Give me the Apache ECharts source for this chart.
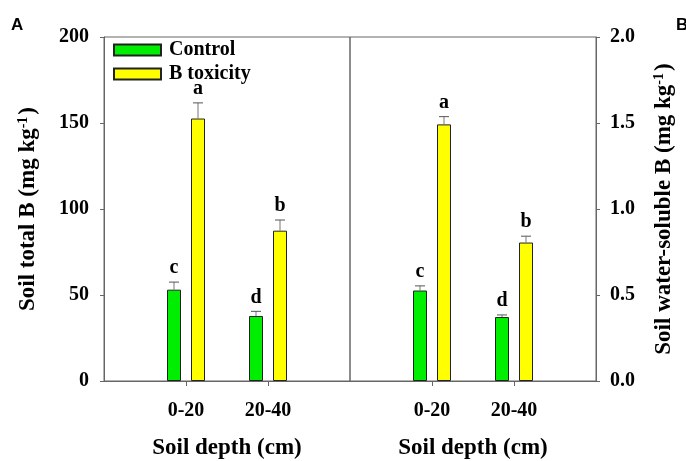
<!DOCTYPE html>
<html>
<head>
<meta charset="utf-8">
<script src="https://cdn.jsdelivr.net/npm/echarts@6/dist/echarts.min.js"></script>
<style>html,body{margin:0;padding:0;background:#fff}#c{width:686px;height:461px}</style>
</head>
<body>
<div id="c"></div>
<script>
// ---- data ----
var depthLabels = ['0-20', '20-40'];
var seriesNames = ['Control', 'B toxicity'];
// Panel A: soil total B (mg/kg)
var totalControl = [53.1, 37.8];
var totalControlErr = [4.4, 2.7];
var totalBtox = [152.6, 87.4];
var totalBtoxErr = [9.1, 6.2];
var totalControlLetters = ['c', 'd'];
var totalBtoxLetters = ['a', 'b'];
// Panel B: soil water-soluble B (mg/kg)
var solControl = [0.526, 0.372];
var solControlErr = [0.027, 0.012];
var solBtox = [1.492, 0.805];
var solBtoxErr = [0.045, 0.037];
var solControlLetters = ['c', 'd'];
var solBtoxLetters = ['a', 'b'];
var leftTicks = [0, 50, 100, 150, 200];
var rightTicks = [0, 0.5, 1.0, 1.5, 2.0];

// ---- styles ----
var SERIF = '"Liberation Serif","Times New Roman",serif';
var GREEN = '#00ee00';
var YELLOW = '#ffff00';
var FRAME = '#666';
var BAR_W = 14, BAR_GAP_PX = 10;
var OFFSET = (BAR_W + BAR_GAP_PX) / 2;

var axisCats = [''].concat(depthLabels, ['']);
function pad(arr) { return [null].concat(arr, [null]); }

function errSeries(name, gridIdx, vals, errs, letters, side) {
  var data = vals.map(function (v, i) { return [i + 1, v, errs[i]]; });
  return {
    type: 'custom', name: name + ' err', xAxisIndex: gridIdx, yAxisIndex: gridIdx, z: 5,
    encode: { x: 0, y: 1 },
    data: data,
    renderItem: function (params, api) {
      var c = api.value(0), v = api.value(1), e = api.value(2);
      var base = api.coord([c, v]);
      var top = api.coord([c, v + e]);
      var x = base[0] + side * OFFSET;
      return {
        type: 'group', children: [
          { type: 'line', shape: { x1: x, y1: base[1], x2: x, y2: top[1] }, style: { stroke: '#777', lineWidth: 1 } },
          { type: 'line', shape: { x1: x - 5, y1: top[1], x2: x + 5, y2: top[1] }, style: { stroke: '#555', lineWidth: 1 } },
          { type: 'text', x: x, y: top[1] - 4, style: { text: letters[params.dataIndex], fontFamily: SERIF, fontWeight: 'bold', fontSize: 20, fill: '#000', align: 'center', verticalAlign: 'bottom' } }
        ]
      };
    }
  };
}

function barSeries(name, gridIdx, vals, color) {
  return {
    type: 'bar', name: name, xAxisIndex: gridIdx, yAxisIndex: gridIdx,
    data: pad(vals), barWidth: BAR_W, barGap: (BAR_GAP_PX / BAR_W * 100) + '%',
    itemStyle: { color: color, borderColor: '#222', borderWidth: 1 },
    emphasis: { disabled: true }, animation: false
  };
}

function xAxisDef(gridIdx) {
  return {
    type: 'category', gridIndex: gridIdx, data: axisCats, boundaryGap: false,
    axisLine: { lineStyle: { color: FRAME } },
    axisTick: { show: true, length: 5, interval: function (i) { return i === 1 || i === 2; }, lineStyle: { color: FRAME } },
    axisLabel: { interval: 0, margin: 20, color: '#000', fontFamily: SERIF, fontWeight: 'bold', fontSize: 20 },
    name: 'Soil depth (cm)', nameLocation: 'middle', nameGap: 56,
    nameTextStyle: { color: '#000', fontFamily: SERIF, fontWeight: 'bold', fontSize: 23 },
    splitLine: { show: false }
  };
}

var chart = echarts.init(document.getElementById('c'), null, { renderer: 'canvas' });
chart.setOption({
  animation: false,
  grid: [
    { left: 104, right: 336, top: 37, bottom: 80, show: true, borderColor: FRAME, borderWidth: 1, containLabel: false, outerBoundsMode: 'none' },
    { left: 350, right: 90, top: 37, bottom: 80, show: true, borderColor: FRAME, borderWidth: 1, containLabel: false, outerBoundsMode: 'none' }
  ],
  legend: {
    data: seriesNames, orient: 'vertical', left: 108, top: 35, itemWidth: 47, itemHeight: 11, itemGap: 4,
    icon: 'rect',
    textStyle: { color: '#000', fontFamily: SERIF, fontWeight: 'bold', fontSize: 20, lineHeight: 20, padding: [0, 0, 0, 3] },
    selectedMode: false
  },
  xAxis: [xAxisDef(0), xAxisDef(1)],
  yAxis: [
    {
      type: 'value', gridIndex: 0, min: leftTicks[0], max: leftTicks[leftTicks.length - 1], interval: leftTicks[1] - leftTicks[0],
      axisLine: { show: true, lineStyle: { color: FRAME } },
      axisTick: { show: true, length: 4, lineStyle: { color: FRAME } },
      axisLabel: { margin: 15, color: '#000', fontFamily: SERIF, fontWeight: 'bold', fontSize: 20 },
      splitLine: { show: false },
      name: 'Soil total B (mg kg{sup|-1})', nameLocation: 'middle', nameGap: 64,
      nameTextStyle: { color: '#000', fontFamily: SERIF, fontWeight: 'bold', fontSize: 23,
        rich: { sup: { fontFamily: SERIF, fontWeight: 'bold', fontSize: 14, verticalAlign: 'top', padding: [0, 2, 10, 0] } } }
    },
    {
      type: 'value', gridIndex: 1, position: 'right', min: rightTicks[0], max: rightTicks[rightTicks.length - 1], interval: rightTicks[1] - rightTicks[0],
      axisLine: { show: true, lineStyle: { color: FRAME } },
      axisTick: { show: true, length: 4, lineStyle: { color: FRAME } },
      axisLabel: { margin: 14, color: '#000', fontFamily: SERIF, fontWeight: 'bold', fontSize: 20, formatter: function (v) { return v.toFixed(1); } },
      splitLine: { show: false },
      name: 'Soil water-soluble B (mg kg{sup|-1})', nameLocation: 'middle', nameGap: 56,
      nameTextStyle: { color: '#000', fontFamily: SERIF, fontWeight: 'bold', fontSize: 23,
        rich: { sup: { fontFamily: SERIF, fontWeight: 'bold', fontSize: 14, verticalAlign: 'top', padding: [0, 2, 10, 0] } } }
    }
  ],
  graphic: [
    { type: 'text', left: 11, top: 17, style: { text: 'A', fontFamily: '"Liberation Sans",Arial,sans-serif', fontWeight: 'bold', fontSize: 17, fill: '#000' } },
    { type: 'text', left: 676, top: 17, style: { text: 'B', fontFamily: '"Liberation Sans",Arial,sans-serif', fontWeight: 'bold', fontSize: 17, fill: '#000' } }
  ],
  series: [
    barSeries('Control', 0, totalControl, GREEN),
    barSeries('B toxicity', 0, totalBtox, YELLOW),
    barSeries('Control', 1, solControl, GREEN),
    barSeries('B toxicity', 1, solBtox, YELLOW),
    errSeries('Control', 0, totalControl, totalControlErr, totalControlLetters, -1),
    errSeries('B toxicity', 0, totalBtox, totalBtoxErr, totalBtoxLetters, 1),
    errSeries('Control', 1, solControl, solControlErr, solControlLetters, -1),
    errSeries('B toxicity', 1, solBtox, solBtoxErr, solBtoxLetters, 1)
  ]
});
</script>
</body>
</html>
